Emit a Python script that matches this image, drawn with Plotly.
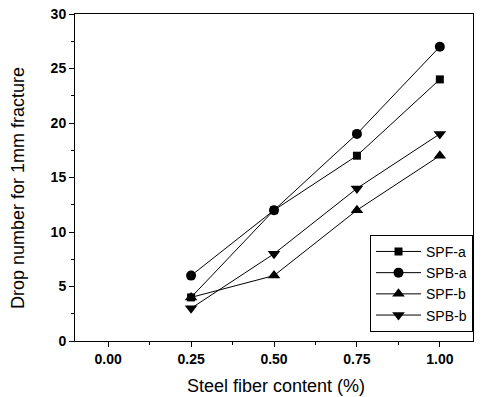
import plotly.graph_objects as go

x_vals = [0.25, 0.50, 0.75, 1.00]
spf_a = [4, 12, 17, 24]
spb_a = [6, 12, 19, 27]
spf_b = [4, 6, 12, 17]
spb_b = [3, 8, 14, 19]

series = [
    ("SPF-a", spf_a, "square", 8),
    ("SPB-a", spb_a, "circle", 10),
    ("SPF-b", spf_b, "triangle-up", 11),
    ("SPB-b", spb_b, "triangle-down", 11),
]

fig = go.Figure()
for name, ys, sym, sz in series:
    fig.add_trace(go.Scatter(
        x=x_vals, y=ys, name=name, mode="lines+markers",
        line=dict(color="black", width=1),
        marker=dict(symbol=sym, size=sz, color="black"),
    ))

font = "Liberation Sans, Arial, sans-serif"
tickfont = dict(size=14, family=font, weight="bold")
fig.update_layout(
    width=482, height=397,
    margin=dict(l=75, r=9, t=14, b=56),
    paper_bgcolor="white", plot_bgcolor="white",
    showlegend=True,
    font=dict(family=font, size=13, color="black"),
    legend=dict(
        x=1, y=0.028, xanchor="right", yanchor="bottom",
        bordercolor="black", borderwidth=1, bgcolor="white",
        font=dict(size=14), tracegroupgap=0, itemwidth=45,
    ),
    xaxis=dict(
        range=[-0.1, 1.1], tickvals=[0, 0.25, 0.5, 0.75, 1.0],
        ticktext=["0.00", "0.25", "0.50", "0.75", "1.00"],
        ticks="outside", ticklen=5, tickcolor="black",
        showline=True, linecolor="black", linewidth=1, mirror=True,
        showgrid=False, zeroline=False, automargin=False,
        tickfont=tickfont,
        minor=dict(ticks="outside", ticklen=3, dtick=0.125, tick0=0, tickcolor="black"),
    ),
    yaxis=dict(
        range=[0, 30], tickvals=[0, 5, 10, 15, 20, 25, 30],
        ticks="outside", ticklen=5, tickcolor="black",
        showline=True, linecolor="black", linewidth=1, mirror=True,
        showgrid=False, zeroline=False, automargin=False,
        tickfont=tickfont,
        minor=dict(ticks="outside", ticklen=3, dtick=2.5, tick0=0, tickcolor="black"),
    ),
    annotations=[
        dict(text="Steel fiber content (%)", xref="paper", yref="paper",
             x=0.504, y=-0.138, xanchor="center", yanchor="middle",
             showarrow=False, font=dict(size=18)),
        dict(text="Drop number for 1mm fracture", xref="paper", yref="paper",
             x=-0.143, y=0.468, xanchor="center", yanchor="middle",
             textangle=-90, showarrow=False, font=dict(size=18)),
    ],
)

fig.write_html("out.html", config={"displayModeBar": False},
               post_script="document.body.style.margin='0';")
